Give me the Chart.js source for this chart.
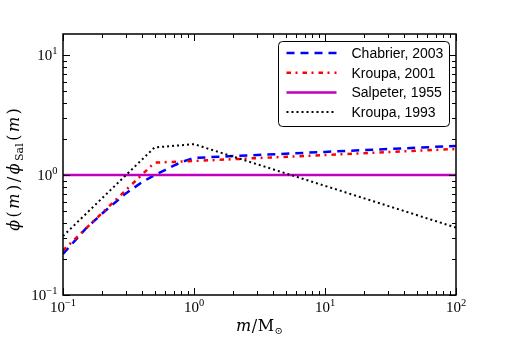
<!DOCTYPE html>
<html lang="en">
<head>
    <meta charset="UTF-8">
    <title>IMF relative to Salpeter</title>
    <script src="https://cdn.jsdelivr.net/npm/chart.js"></script>
    <style>
        body { margin: 0; background: #fff; }
    </style>
</head>
<body>
    <canvas id="imfChart" width="507" height="338"></canvas>

    <script>
        // mass (M_sun) and phi(m)/phi_Sal(m)
        const chabrierMass  = [0.1, 0.15, 0.2, 0.3, 0.4, 0.5, 0.6, 0.7, 0.8, 0.9, 1, 10, 100];
        const chabrierRatio = [0.22, 0.36, 0.48, 0.70, 0.87, 1.0, 1.1, 1.2, 1.28, 1.34, 1.39, 1.56, 1.75];

        const kroupa01Mass  = [0.1, 0.5, 1, 10, 100];
        const kroupa01Ratio = [0.235, 1.27, 1.31, 1.47, 1.65];

        const salpeterMass  = [0.1, 100];
        const salpeterRatio = [1, 1];

        const kroupa93Mass  = [0.1, 0.5, 1, 100];
        const kroupa93Ratio = [0.31, 1.7, 1.81, 0.365];

        // tick labels are powers of ten: 10^exponent
        const xTickExponents = [-1, 0, 1, 2];
        const yTickExponents = [-1, 0, 1];

        const serif = '"Liberation Serif", "DejaVu Serif", serif';
        const mathFont = '"DejaVu Serif", serif';

        function toPoints(xs, ys) {
            return xs.map((x, i) => ({ x: x, y: ys[i] }));
        }

        function supText(e) {
            return String(e).replace('-', '\u2212');
        }

        // draw a row of text pieces [text, font, dy] starting at x
        function drawPieces(ctx, pieces, x, y, gap) {
            pieces.forEach(p => {
                ctx.font = p[1];
                ctx.fillText(p[0], x, y + (p[2] || 0));
                x += ctx.measureText(p[0]).width + gap;
            });
        }
        function piecesWidth(ctx, pieces, gap) {
            let w = 0;
            pieces.forEach(p => { ctx.font = p[1]; w += ctx.measureText(p[0]).width + gap; });
            return w - gap;
        }

        // frame, inward ticks, tick labels, axis titles and boxed legend
        const axesDecor = {
            id: 'axesDecor',
            afterDraw(chart) {
                const ctx = chart.ctx;
                const a = chart.chartArea;
                const xs = chart.scales.x, ys = chart.scales.y;
                ctx.save();

                // ticks on all four sides, pointing in
                ctx.strokeStyle = '#000';
                ctx.lineWidth = 1;
                ctx.beginPath();
                for (let e = -1; e <= 2; e++) {
                    for (let k = 1; k <= 9; k++) {
                        const v = k * Math.pow(10, e);
                        const len = k === 1 ? 7 : 4;
                        if (v >= xs.min && v <= xs.max) {
                            const px = Math.round(xs.getPixelForValue(v)) + 0.5;
                            ctx.moveTo(px, a.bottom); ctx.lineTo(px, a.bottom - len);
                            ctx.moveTo(px, a.top); ctx.lineTo(px, a.top + len);
                        }
                        if (v >= ys.min && v <= ys.max) {
                            const py = Math.round(ys.getPixelForValue(v)) + 0.5;
                            ctx.moveTo(a.left, py); ctx.lineTo(a.left + len, py);
                            ctx.moveTo(a.right, py); ctx.lineTo(a.right - len, py);
                        }
                    }
                }
                ctx.stroke();

                // frame
                ctx.lineWidth = 1.5;
                ctx.strokeRect(a.left, a.top, a.right - a.left, a.bottom - a.top);

                // tick labels
                ctx.fillStyle = '#000';
                ctx.textBaseline = 'alphabetic';
                ctx.textAlign = 'left';
                const baseFont = '15px ' + serif, expFont = '10.5px ' + serif;
                xTickExponents.forEach(e => {
                    const pieces = [['10', baseFont, 0], [supText(e), expFont, -6.5]];
                    const w = piecesWidth(ctx, pieces, 0);
                    const px = xs.getPixelForValue(Math.pow(10, e));
                    drawPieces(ctx, pieces, px - w / 2, a.bottom + 17, 0);
                });
                yTickExponents.forEach(e => {
                    const pieces = [['10', baseFont, 0], [supText(e), expFont, -6.5]];
                    const w = piecesWidth(ctx, pieces, 0);
                    const py = ys.getPixelForValue(Math.pow(10, e));
                    drawPieces(ctx, pieces, a.left - 5.5 - w, py + 5, 0);
                });

                // x title: m / M_sun
                const it = 'italic 16px ' + mathFont, rm = '16px ' + mathFont, sm = '10px ' + mathFont;
                const xTitle = [['m', it, 0], ['/', rm, 0], ['M', rm, 0], ['\u2299', sm, 3]];
                const xw = piecesWidth(ctx, xTitle, 0.5);
                drawPieces(ctx, xTitle, (a.left + a.right) / 2 - xw / 2, 330.5, 0.5);

                // y title: phi(m) / phi_Sal(m)
                const yTitle = [['\u03D5', it, 0], ['(', rm, 0], ['m', it, 0], [')', rm, 0], ['/', rm, 0],
                                ['\u03D5', it, 0], ['Sal', '11px ' + mathFont, 3.5], ['(', rm, 0], ['m', it, 0], [')', rm, 0]];
                const yw = piecesWidth(ctx, yTitle, 2.5);
                ctx.save();
                ctx.translate(19, (a.top + a.bottom) / 2 + 5);
                ctx.rotate(-Math.PI / 2);
                drawPieces(ctx, yTitle, -yw / 2, 0, 2.5);
                ctx.restore();

                // legend box in the upper right corner
                const lw = 171, lh = 85;
                const lx = a.right - 7 - lw, ly = a.top + 7;
                ctx.beginPath();
                ctx.roundRect(lx + 0.5, ly + 0.5, lw, lh, 4);
                ctx.fillStyle = '#fff';
                ctx.fill();
                ctx.lineWidth = 1;
                ctx.strokeStyle = '#000';
                ctx.stroke();

                ctx.font = '14px "Liberation Sans", Arial, sans-serif';
                ctx.textBaseline = 'middle';
                chart.data.datasets.forEach((ds, i) => {
                    const rowY = ly + 12 + i * 19.7;
                    ctx.save();
                    ctx.beginPath();
                    ctx.strokeStyle = ds.borderColor;
                    ctx.lineWidth = ds.borderWidth;
                    ctx.setLineDash(ds.borderDash || []);
                    ctx.moveTo(lx + 8.5, rowY);
                    ctx.lineTo(lx + 58.5, rowY);
                    ctx.stroke();
                    ctx.restore();
                    ctx.fillStyle = '#000';
                    ctx.fillText(ds.label, lx + 73.5, rowY + 1);
                });

                ctx.restore();
            }
        };

        const ctx = document.getElementById('imfChart').getContext('2d');
        const imfChart = new Chart(ctx, {
            type: 'line',
            data: {
                datasets: [
                    {
                        label: 'Chabrier, 2003',
                        data: toPoints(chabrierMass, chabrierRatio),
                        borderColor: '#0000ff',
                        borderWidth: 2.5,
                        borderDash: [8, 6],
                        order: 4
                    },
                    {
                        label: 'Kroupa, 2001',
                        data: toPoints(kroupa01Mass, kroupa01Ratio),
                        borderColor: '#ff0000',
                        borderWidth: 2.5,
                        borderDash: [4.5, 4.5, 2, 5],
                        order: 3
                    },
                    {
                        label: 'Salpeter, 1955',
                        data: toPoints(salpeterMass, salpeterRatio),
                        borderColor: '#bf00bf',
                        borderWidth: 2.5,
                        order: 2
                    },
                    {
                        label: 'Kroupa, 1993',
                        data: toPoints(kroupa93Mass, kroupa93Ratio),
                        borderColor: '#000000',
                        borderWidth: 2,
                        borderDash: [2, 3],
                        order: 1
                    }
                ]
            },
            options: {
                responsive: false,
                animation: false,
                layout: { padding: { left: 0, top: 34, right: 51, bottom: 0 } },
                elements: {
                    point: { radius: 0 },
                    line: { tension: 0, fill: false, borderCapStyle: 'butt' }
                },
                scales: {
                    x: {
                        type: 'logarithmic',
                        min: 0.1,
                        max: 100,
                        ticks: { display: false },
                        grid: { display: false },
                        border: { display: false },
                        afterFit: s => { s.height = 43; }
                    },
                    y: {
                        type: 'logarithmic',
                        min: 0.1,
                        max: 15,
                        ticks: { display: false },
                        grid: { display: false },
                        border: { display: false },
                        afterFit: s => { s.width = 63; }
                    }
                },
                plugins: {
                    legend: { display: false },
                    tooltip: { enabled: false }
                }
            },
            plugins: [axesDecor]
        });
    </script>
</body>
</html>
